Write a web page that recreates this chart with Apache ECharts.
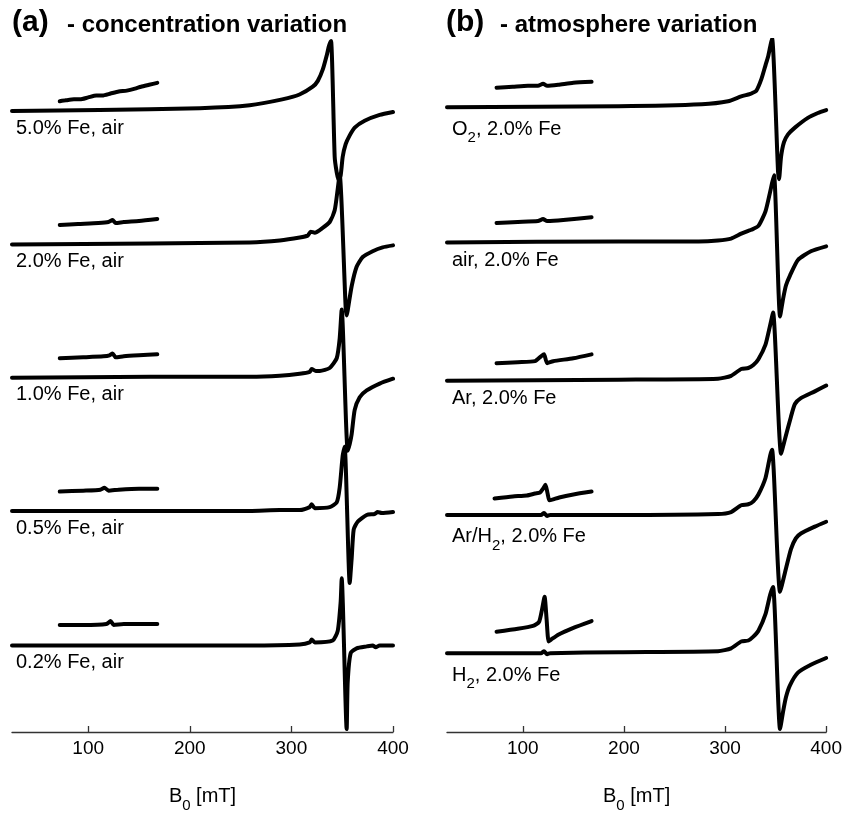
<!DOCTYPE html>
<html>
<head>
<meta charset="utf-8">
<title>EPR spectra</title>
<script src="https://cdn.jsdelivr.net/npm/echarts@6.0.0/dist/echarts.min.js"></script>
<style>
  html, body { margin: 0; padding: 0; background: #fff; }
  #chart { width: 845px; height: 818px; }
</style>
</head>
<body>
<div id="chart"></div>
<script>
// field ticks (mT)
var fieldTicks = [100, 200, 300, 400];

// (a) concentration variation: [B0 in mT, signal]
var conc50 = [[25,0],[111,1],[210,3],[259,6],[291,12],[308,17],[321,25],[326,31],[331,43],[335,58],[337,67],[339,72],[342.6,-47],[344.6,-63],[346.5,-71],[348.5,-66],[350.5,-47],[353.4,-34],[357.4,-25],[362.3,-17],[372.1,-10],[386.9,-4],[400,-1]];
var conc20 = [[25,0],[161,1],[259,2],[288.5,4],[308.2,7],[316,9],[319,13],[323,12],[330.8,17],[337.7,23],[342.6,35],[345.6,57],[347.5,72],[353.4,-65],[354.4,-73],[355.4,-68],[359.3,-43],[364.2,-23],[370.2,-13],[380,-7],[389.8,-3],[400,-1]];
var conc10 = [[25,0],[161,1],[259,1],[288.5,2],[308.2,4],[318,6],[320,9],[324,7],[328,7],[337.7,10],[344.6,20],[347.5,40],[349.5,70],[355.4,-75],[357.4,-68],[359.3,-58],[362.3,-33],[367.2,-20],[374.1,-13],[386.9,-6],[400,-1]];
var conc05 = [[25,0],[259,0],[288.5,1],[308.2,1],[318,4],[320,7],[323,3],[337.7,4],[344.6,9],[347.5,24],[350.5,57],[352.4,66],[357.4,-74],[359.3,-49],[361.3,-19],[365.2,-11],[374.1,-4],[381.9,-3],[384.9,-1],[389,-2],[400,-1]];
var conc02 = [[25,0],[259,0],[308.2,1],[318,3],[320,6],[323,3],[340.6,5],[345.6,15],[348.5,45],[349.5,69],[354.4,-86],[355.4,-38],[358.3,-8],[364.2,-3],[374.1,-1],[380,0],[383,-2],[386.9,0],[400,0]];

// magnified low-field parts
var conc50Zoom = [[72,10],[78,11],[86,12],[92,12],[100,14],[108,16],[114,16],[122,18],[130,20],[138,21],[146,23],[152,25],[160,27],[168,29]];
var conc20Zoom = [[72,20],[90,21],[110,22],[120,23],[124,25],[127,22],[135,23],[150,24],[168,26]];
var conc10Zoom = [[72,20],[95,21],[115,22],[121,23],[124,25],[127,21],[135,22],[150,23],[168,24]];
var conc05Zoom = [[72,20],[95,21],[112,22],[116,24],[120,21],[130,22],[150,23],[168,23]];
var conc02Zoom = [[72,21],[95,21],[118,22],[122,25],[125,21],[135,22],[150,22],[168,22]];

var concLabels = ['5.0% Fe, air', '2.0% Fe, air', '1.0% Fe, air', '0.5% Fe, air', '0.2% Fe, air'];
var concOffsets = [638, 501, 364, 227, 89];

// (b) atmosphere variation
var atmO2 = [[25,0],[195,1],[277,3],[303,6],[316,11],[323,13],[326,14],[331,17],[336,29],[340,43],[342.6,52],[344.6,62],[346.5,71],[352.4,-66],[353.4,-74],[355.4,-51],[358.3,-36],[362.3,-28],[369.1,-21],[381.9,-11],[391.8,-6],[400,-3]];
var atmAir = [[25,0],[195,1],[274,1],[293,2],[306,4],[316,9],[323,12],[326,13],[333,17],[340,32],[344.6,52],[346.5,61],[348.5,69],[354.4,-76],[357.4,-58],[360.3,-44],[364.2,-34],[372.1,-18],[384.9,-9],[400,-4]];
var atmAr = [[25,0],[195,1],[293,2],[306,5],[316,12],[323,13],[328,16],[333,22],[340,37],[344.6,57],[347.5,70],[355.4,-75],[359.3,-60],[365.2,-37],[369.1,-24],[375,-18],[388.8,-11],[400,-5]];
var atmArH2 = [[25,0],[118,0],[121,2],[124,-1],[127,0],[195,0],[293,1],[306,3],[316,10],[323,11],[328,14],[333,21],[340,38],[344.6,61],[346.5,67],[354.4,-79],[359.3,-59],[365.2,-35],[370,-24],[375,-19],[388.8,-12],[400,-7]];
var atmH2 = [[25,0],[118,0],[121,2],[124,-1],[127,0],[195,1],[293,2],[306,5],[316,12],[323,13],[328,17],[333,23],[340,40],[344.6,60],[347.5,68],[354.4,-78],[357.4,-60],[360.3,-45],[364.2,-33],[372.1,-20],[384.9,-12],[400,-5]];

var atmO2Zoom = [[74,20],[90,21],[105,22],[115,22],[120,24],[124,22],[135,23],[150,25],[168,26]];
var atmAirZoom = [[74,20],[95,21],[115,22],[120,24],[124,22],[140,23],[168,26]];
var atmArZoom = [[74,18],[95,19],[112,20],[118,25],[121,27],[124,18],[130,20],[150,23],[168,27]];
var atmArH2Zoom = [[72,17],[90,19],[104,20],[112,22],[117,23],[120,27],[122.4,31],[124.5,22],[126.3,15],[130,16],[136,18],[150,21],[168,24]];
var atmH2Zoom = [[74,22],[95,25],[110,28],[116,32],[119,45],[121.5,58],[123.5,35],[125.5,12],[128,14],[135,19],[150,26],[168,33]];

var atmLabels = ['O{s|2}, 2.0% Fe', 'air, 2.0% Fe', 'Ar, 2.0% Fe', 'Ar/H{s|2}, 2.0% Fe', 'H{s|2}, 2.0% Fe'];
var atmOffsets = [642, 503, 361, 223, 81];

var concSpectra = [conc50, conc20, conc10, conc05, conc02];
var concZooms = [conc50Zoom, conc20Zoom, conc10Zoom, conc05Zoom, conc02Zoom];
var atmSpectra = [atmO2, atmAir, atmAr, atmArH2, atmH2];
var atmZooms = [atmO2Zoom, atmAirZoom, atmArZoom, atmArH2Zoom, atmH2Zoom];

var FONT = '"Liberation Sans", Arial, Helvetica, sans-serif';

function shift(data, off) {
    return data.map(function (p) { return [p[0], p[1] + off]; });
}

function makeSeries(list, offsets, idx) {
    return list.map(function (d, i) {
        return {
            type: 'line',
            xAxisIndex: idx,
            yAxisIndex: idx,
            data: shift(d, offsets[i]),
            showSymbol: false,
            smooth: 0.2,
            silent: true,
            lineStyle: { color: '#000', width: 4, cap: 'round', join: 'round' }
        };
    });
}

function xAxisFor(idx) {
    return {
        type: 'value',
        gridIndex: idx,
        min: 25,
        max: 400,
        name: '{b|B}{s|0}{b| [mT]}',
        nameLocation: 'middle',
        nameGap: 47,
        nameTextStyle: {
            rich: {
                b: { fontFamily: FONT, fontSize: 20, color: '#000', lineHeight: 24, verticalAlign: 'middle' },
                s: { fontFamily: FONT, fontSize: 15, color: '#000', lineHeight: 34, verticalAlign: 'bottom' }
            }
        },
        axisLine: { lineStyle: { color: '#333', width: 1.3 } },
        axisTick: { inside: true, length: 6, customValues: fieldTicks, lineStyle: { color: '#333', width: 1.3 } },
        axisLabel: { customValues: fieldTicks, fontFamily: FONT, fontSize: 19, color: '#000', margin: 7 },
        splitLine: { show: false }
    };
}

function yAxisFor(idx) {
    return { type: 'value', gridIndex: idx, min: 0, max: 711, show: false };
}

var myChart = echarts.init(document.getElementById('chart'));

var option = {
    backgroundColor: '#fff',
    animation: false,
    grid: [
        { left: 12, width: 381, top: 40, bottom: 67 },
        { left: 447, width: 381, top: 40, bottom: 67 }
    ],
    xAxis: [xAxisFor(0), xAxisFor(1)],
    yAxis: [yAxisFor(0), yAxisFor(1)],
    series: [].concat(
        makeSeries(concSpectra, concOffsets, 0),
        makeSeries(concZooms, concOffsets, 0),
        makeSeries(atmSpectra, atmOffsets, 1),
        makeSeries(atmZooms, atmOffsets, 1)
    )
};
myChart.setOption(option);

// panel titles and sample labels
var sub = { fontFamily: FONT, fontSize: 15, fill: '#000', lineHeight: 32, verticalAlign: 'bottom' };
var graphics = [
    { type: 'text', x: 12, y: 23, style: { text: '(a)', font: 'bold 30px ' + FONT, fill: '#000', verticalAlign: 'middle' } },
    { type: 'text', x: 67, y: 25, style: { text: '- concentration variation', font: 'bold 24px ' + FONT, fill: '#000', verticalAlign: 'middle' } },
    { type: 'text', x: 446, y: 23, style: { text: '(b)', font: 'bold 30px ' + FONT, fill: '#000', verticalAlign: 'middle' } },
    { type: 'text', x: 500, y: 25, style: { text: '- atmosphere variation', font: 'bold 24px ' + FONT, fill: '#000', verticalAlign: 'middle' } }
];
concLabels.forEach(function (t, i) {
    var p = myChart.convertToPixel({ xAxisIndex: 0, yAxisIndex: 0 }, [25, concOffsets[i]]);
    graphics.push({ type: 'text', x: p[0] + 4, y: p[1] + 7,
        style: { text: t, font: '20px ' + FONT, fill: '#000', verticalAlign: 'top' } });
});
atmLabels.forEach(function (t, i) {
    var p = myChart.convertToPixel({ xAxisIndex: 1, yAxisIndex: 1 }, [25, atmOffsets[i]]);
    graphics.push({ type: 'text', x: p[0] + 5, y: p[1] + 6,
        style: { text: '{m|' + t.replace(/\{s\|(\d)\}/g, '}{s|$1}{m|') + '}',
            verticalAlign: 'top',
            rich: {
                m: { fontFamily: FONT, fontSize: 20, fill: '#000', lineHeight: 24, verticalAlign: 'middle' },
                s: sub
            } } });
});
myChart.setOption({ graphic: graphics });
</script>
</body>
</html>
